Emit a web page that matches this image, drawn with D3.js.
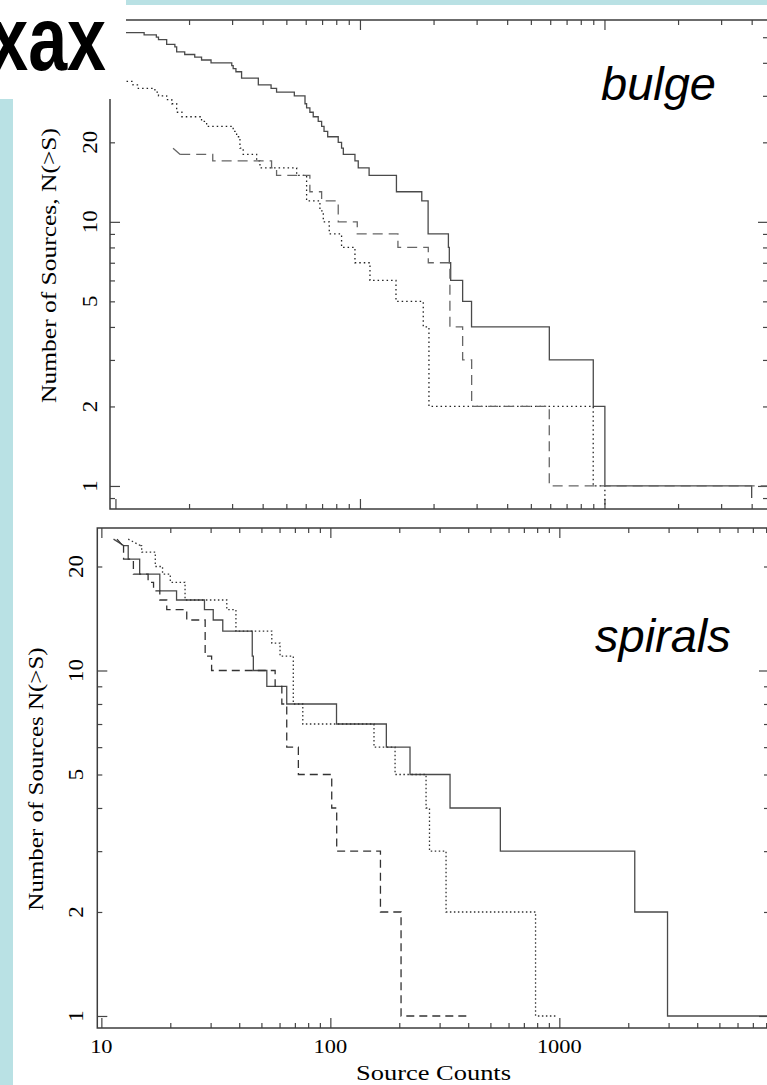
<!DOCTYPE html>
<html>
<head>
<meta charset="utf-8">
<script src="https://cdn.jsdelivr.net/npm/d3@7"></script>
<style>
	body { margin:0; background:#fff; }
	svg { display:block; }
</style>
</head>
<body>
<div id="chart"></div>
<script>

// cumulative source counts N(>S): [source counts, N]
const bulgeSolid=[[10.2,52],[13.1,51],[14.7,50],[15.0,49],[16.2,47],[17.5,46],[17.8,44],[19.2,43],[21.1,42],[22.5,41],[24.6,40],[29.9,39],[30.3,38],[31.1,37],[32.8,35],[38.4,33],[43.3,32],[45.6,31],[53.9,30],[59.6,28],[60.5,27],[62.4,26],[64.4,25],[67.5,24],[69.7,23],[71.3,22],[73.8,21],[81.5,20],[84.1,19],[85.5,18],[95.4,17],[98.4,16],[109,15],[141,13],[179,12],[190,9],[230,8],[232,7],[235,6],[263,5],[286,4],[595,3],[900,2],[1004,1],[4000,0.9]];
const bulgeDotted=[[10.2,34],[11.8,33],[12.4,32],[14.5,31],[15.0,30],[16.2,29],[17.0,28],[17.8,26],[18.7,25],[22.5,24],[23.6,23],[30.3,22],[31.3,21],[32.3,19],[33.3,18],[37.8,17],[39.0,16],[55.1,15],[60.5,12],[68.6,11],[70.8,10],[74.9,9],[84.1,8],[95.4,7],[109.9,6],[140.4,5],[181.5,4],[191.5,2],[899.5,1],[1004,0.85]];
const bulgeDashed=[[17.2,19],[18.4,18],[25.0,17],[43.5,16],[45.6,15],[62.4,13],[69.7,12],[81.5,10],[97.5,9],[143,8],[190.3,7],[233.3,4],[263,3],[286.3,2],[594.7,1],[10000,1]];

const spiralSolid=[[11.3,24],[12.5,23],[13.1,21],[14.7,19],[18.0,17],[21.3,16],[28.2,15],[30.8,14],[33.9,13],[45.6,11],[46.1,10],[52.8,9],[64.5,8],[106.4,7],[175.6,6],[222.8,5],[333.2,4],[552.6,3],[2135,2],[2968,1],[10000,1]];
const spiralDotted=[[13.1,24],[14.8,23],[15.0,22],[17.2,20],[18.5,19],[20.0,18],[23.2,16],[35.3,15],[38.7,13],[55.5,12],[60.3,11],[68.9,8],[75.8,7],[155.1,6],[191.7,5],[261.8,4],[271,3],[320.1,2],[787.3,1],[967,1]];
const spiralDashed=[[11.7,24],[12.4,23],[12.5,21],[13.8,19],[16.0,18],[16.9,17],[18.0,16],[19.3,15],[23.6,14],[28.4,11],[30.3,10],[57.4,9],[61.4,8],[64.5,6],[72.5,5],[101.4,4],[106.6,3],[165.5,2],[203.6,1],[395.4,1]];

const yTickLabels=[1,2,5,10,20];
const xTickLabels=[10,100,1000];

const W=767, H=1085;
const font="'Liberation Serif', 'DejaVu Serif', serif";

const svg=d3.select("#chart").append("svg")
		.attr("width",W)
		.attr("height",H);

// slide background strips
svg.append("rect").attr("x",0).attr("y",0).attr("width",13).attr("height",H).attr("fill","#b9e1e4");
svg.append("rect").attr("x",0).attr("y",0).attr("width",W).attr("height",5).attr("fill","#b9e1e4");

function logTicks(dom) {
	let out=[];
	for (let e=-1;e<=4;e++)
		for (let m=1;m<10;m++) {
			let v=m*Math.pow(10,e);
			if (v>=dom[0] && v<=dom[1]) out.push(+v.toPrecision(3));
		}
	return out;
}

function drawPanel(p) {

	let x=d3.scaleLog().domain(p.xDomain).range([p.left,p.right]),
		y=d3.scaleLog().domain(p.yDomain).range([p.bottom,p.top]);

	let g=svg.append("g");

	let clipId="clip-"+p.name;
	g.append("clipPath").attr("id",clipId)
		.append("rect")
			.attr("x",p.left).attr("y",p.top)
			.attr("width",p.right-p.left).attr("height",p.bottom-p.top);

	let xt=logTicks(p.xDomain), yt=logTicks(p.yDomain);
	let isMajor=v=>Math.abs(Math.log10(v)-Math.round(Math.log10(v)))<1e-6;

	let axes=[
		[d3.axisBottom(x),`translate(0,${p.bottom})`,xt],
		[d3.axisTop(x),`translate(0,${p.top})`,xt],
		[d3.axisLeft(y),`translate(${p.left},0)`,yt],
		[d3.axisRight(y),`translate(${p.right},0)`,yt]
	];
	axes.forEach(([ax,tr,vals])=>{
		[[vals.filter(isMajor),p.major],[vals.filter(v=>!isMajor(v)),p.minor]].forEach(([vs,len])=>{
			g.append("g")
				.attr("transform",tr)
				.call(ax.tickValues(vs).tickSize(-len).tickFormat(""))
				.call(s=>s.select(".domain").remove())
				.selectAll("line")
					.attr("stroke","#444")
					.attr("stroke-width",1.2);
		});
	});

	g.append("rect")
		.attr("x",p.left).attr("y",p.top)
		.attr("width",p.right-p.left).attr("height",p.bottom-p.top)
		.attr("fill","none")
		.attr("stroke","#3c3c3c")
		.attr("stroke-width",1.5);

	// step curves
	let straight=d3.line().x(d=>x(d[0])).y(d=>y(d[1])),
		steps=d3.line().x(d=>x(d[0])).y(d=>y(d[1])).curve(d3.curveStepAfter);

	p.series.forEach(s=>{
		let d=s.lead ? straight(s.data.slice(0,2))+steps(s.data.slice(1)) : steps(s.data);
		g.append("path")
			.attr("d",d)
			.attr("clip-path",`url(#${clipId})`)
			.attr("fill","none")
			.attr("stroke",s.color)
			.attr("stroke-width",s.width)
			.attr("stroke-dasharray",s.dash);
	});

	// y tick labels (rotated)
	g.selectAll("text.ylab")
		.data(yTickLabels)
		.join("text")
			.attr("class","ylab")
			.attr("transform",d=>`translate(${p.yLabelX},${y(d)}) rotate(-90)`)
			.attr("text-anchor","middle")
			.attr("font-family",font)
			.attr("font-size",20)
			.attr("textLength",d=>String(d).length*11.5)
			.attr("lengthAdjust","spacingAndGlyphs")
			.text(d=>d);

	g.append("text")
		.attr("transform",`translate(${p.titleX},${p.titleY}) rotate(-90)`)
		.attr("text-anchor","middle")
		.attr("font-family",font)
		.attr("font-size",20)
		.attr("textLength",p.yTitle.length*11.45)
		.attr("lengthAdjust","spacingAndGlyphs")
		.text(p.yTitle);

	if (p.xLabels) {
		g.selectAll("text.xlab")
			.data(xTickLabels)
			.join("text")
				.attr("class","xlab")
				.attr("x",d=>x(d))
				.attr("y",p.bottom+25)
				.attr("text-anchor","middle")
				.attr("font-family",font)
				.attr("font-size",19)
				.attr("textLength",d=>String(d).length*11.2)
				.attr("lengthAdjust","spacingAndGlyphs")
				.text(d=>d);

		g.append("text")
			.attr("x",433.5)
			.attr("y",p.bottom+52)
			.attr("text-anchor","middle")
			.attr("font-family",font)
			.attr("font-size",20)
			.attr("textLength",155)
			.attr("lengthAdjust","spacingAndGlyphs")
			.text("Source Counts");
	}

	g.append("text")
		.attr("x",p.tagX)
		.attr("y",p.tagY)
		.attr("font-family","'Liberation Sans', Arial, sans-serif")
		.attr("font-style","italic")
		.attr("font-size",47)
		.attr("fill","#000")
		.text(p.name);
}

drawPanel({
	name:"bulge",
	left:110, right:768, top:20, bottom:509,
	xDomain:[9.5,4665], yDomain:[0.818,58.1],
	major:10, minor:5,
	yLabelX:97, titleX:56, titleY:265.5,
	yTitle:"Number of Sources, N(>S)",
	tagX:601, tagY:100,
	xLabels:false,
	series:[
		{data:bulgeSolid, color:"#4a4a4a", width:1.3, dash:null},
		{data:bulgeDotted, color:"#222", width:1.3, dash:"1.5,3"},
		{data:bulgeDashed, color:"#666", width:1.3, dash:"10,6", lead:true}
	]
});

drawPanel({
	name:"spirals",
	left:97.3, right:769, top:528, bottom:1028,
	xDomain:[9.6,8234], yDomain:[0.923,25.85],
	major:10, minor:5,
	yLabelX:83, titleX:43, titleY:779,
	yTitle:"Number of Sources N(>S)",
	tagX:595, tagY:651.7,
	xLabels:true,
	series:[
		{data:spiralSolid, color:"#4a4a4a", width:1.3, dash:null, lead:true},
		{data:spiralDotted, color:"#333", width:1.3, dash:"1.5,2.5", lead:true},
		{data:spiralDashed, color:"#333", width:1.3, dash:"8,5", lead:true}
	]
});

// title box of the slide, laid over the plot corner
svg.append("rect").attr("x",0).attr("y",0).attr("width",126).attr("height",99).attr("fill","#fff");
svg.append("text")
	.attr("transform","translate(106,70) scale(1,1.3)")
	.attr("text-anchor","end")
	.attr("font-family","'Liberation Sans', Arial, sans-serif")
	.attr("font-weight","bold")
	.attr("font-size",70)
	.attr("fill","#000")
	.text("xax");

</script>
</body>
</html>
